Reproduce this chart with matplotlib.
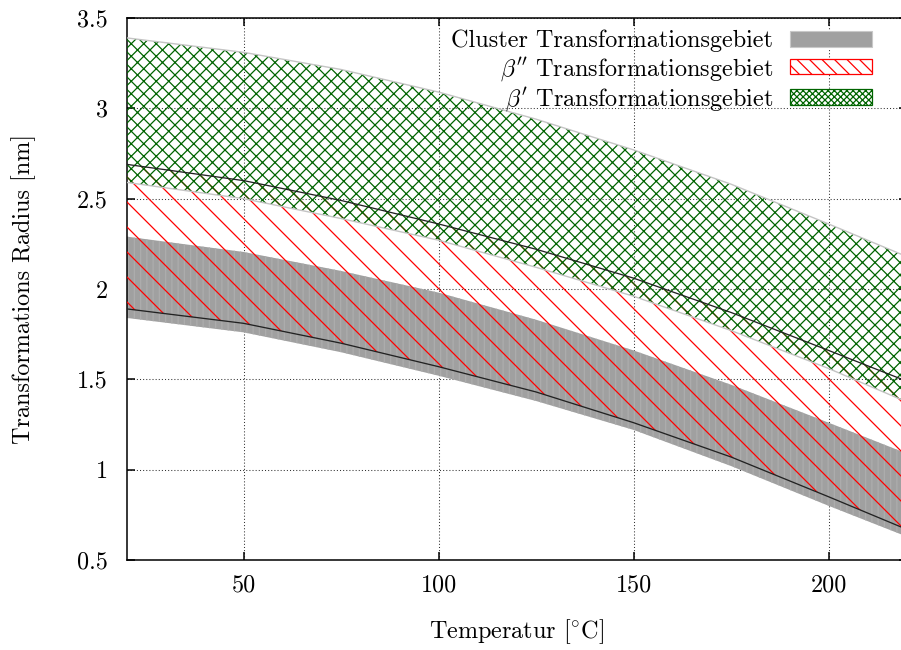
import matplotlib
matplotlib.use('Agg')
import matplotlib.pyplot as plt
from matplotlib.patches import Patch

# ---- data ----
temperature = [20, 50, 75, 100, 125, 150, 175, 200, 220]
beta1_upper = [3.39, 3.31, 3.215, 3.09, 2.94, 2.77, 2.58, 2.36, 2.18]
beta1_lower = [2.59, 2.50, 2.39, 2.27, 2.12, 1.96, 1.77, 1.56, 1.375]
beta2_upper = [2.69, 2.60, 2.49, 2.36, 2.22, 2.06, 1.87, 1.66, 1.49]
beta2_lower = [1.89, 1.81, 1.70, 1.57, 1.43, 1.26, 1.07, 0.85, 0.67]
cluster_upper = [2.29, 2.205, 2.10, 1.98, 1.83, 1.66, 1.47, 1.26, 1.09]
cluster_lower = [1.84, 1.76, 1.65, 1.52, 1.38, 1.22, 1.02, 0.80, 0.63]

x_ticks = [50, 100, 150, 200]
x_tick_labels = ['50', '100', '150', '200']
y_ticks = [0.5, 1, 1.5, 2, 2.5, 3, 3.5]
y_tick_labels = ['0.5', '1', '1.5', '2', '2.5', '3', '3.5']
legend_labels = ['Cluster Transformationsgebiet',
                 r"$\beta''$ Transformationsgebiet",
                 r"$\beta'$ Transformationsgebiet"]
x_label = r'Temperatur [$^{\circ}$C]'
y_label = 'Transformations Radius [nm]'

plt.rcParams['font.family'] = ['cmr10', 'DejaVu Serif']
plt.rcParams['mathtext.fontset'] = 'cm'
plt.rcParams['axes.unicode_minus'] = False
plt.rcParams['axes.formatter.use_mathtext'] = True
plt.rcParams['hatch.linewidth'] = 1.2

FS = 23.2
DPI = 75
fig = plt.figure(figsize=(901 / DPI, 650 / DPI), dpi=DPI)
ax = fig.add_axes([126.6 / 901, 90 / 650, 780 / 901, 542 / 650])
ax.set_axisbelow(True)

grey = '#a0a0a0'
green = '#006400'

# cluster band (grey with light vertical stripes)
ax.fill_between(temperature, cluster_lower, cluster_upper, facecolor=grey,
                edgecolor='none', linewidth=0, zorder=2)
ax.fill_between(temperature, cluster_lower, cluster_upper, facecolor='none',
                edgecolor='#acacac', hatch='||', linewidth=0, zorder=2.1)
# beta'' band (red diagonal hatch)
ax.fill_between(temperature, beta2_lower, beta2_upper, facecolor='none',
                edgecolor='red', hatch='\\', linewidth=0, zorder=3)
# beta' band (green cross hatch)
ax.fill_between(temperature, beta1_lower, beta1_upper, facecolor='none',
                edgecolor=green, hatch='xx', linewidth=0, zorder=4)
ax.plot(temperature, beta1_upper, color='#c4c4c4', lw=1.33, zorder=5)
ax.plot(temperature, beta1_lower, color='#c4c4c4', lw=1.33, zorder=5)
ax.plot(temperature, beta2_upper, color='#222222', lw=1.25, zorder=6)
ax.plot(temperature, beta2_lower, color='#222222', lw=1.25, zorder=6)

ax.set_xlim(20, 220)
ax.set_ylim(0.5, 3.5)
ax.set_xticks(x_ticks)
ax.set_xticklabels(x_tick_labels)
ax.set_yticks(y_ticks)
ax.set_yticklabels(y_tick_labels)
ax.tick_params(direction='in', length=7.6, width=1.47, labelsize=FS,
               top=True, right=True, colors='black')
ax.tick_params(axis='y', pad=18)
ax.tick_params(axis='x', pad=14)
ax.grid(True, color='#333333', linestyle=(0, (1, 2)), linewidth=1.0)
for s in ax.spines.values():
    s.set_linewidth(1.47)

ax.set_xlabel(x_label, fontsize=FS, labelpad=20)
ax.set_ylabel(y_label, fontsize=FS, labelpad=39.4)

handles = [Patch(facecolor=grey, edgecolor='#c8c8c8', linewidth=1.07),
           Patch(facecolor='white', edgecolor='red', hatch='\\\\', linewidth=1.2),
           Patch(facecolor='white', edgecolor=green, hatch='xxxx', linewidth=1.2)]
leg = ax.legend(handles, legend_labels, loc='upper right',
                bbox_to_anchor=((872 - 126.6) / 780, (560 - 30) / 542),
                frameon=False, fontsize=FS, markerfirst=False,
                handlelength=3.4, handleheight=0.6, handletextpad=0.68,
                labelspacing=0.1, borderpad=0, borderaxespad=0)

fig.savefig('out.png', dpi=DPI)
